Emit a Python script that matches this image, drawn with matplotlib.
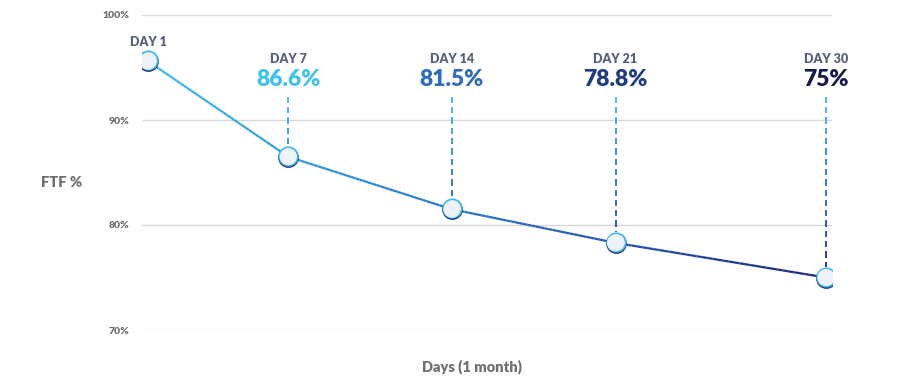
import numpy as np
import matplotlib.pyplot as plt
from matplotlib.collections import LineCollection
from matplotlib import transforms
from matplotlib.colors import LinearSegmentedColormap

days = [1, 7, 14, 21, 30]
ftf = [95.6, 86.5, 81.5, 78.3, 75.0]
day_labels = ['DAY 1', 'DAY 7', 'DAY 14', 'DAY 21', 'DAY 30']
value_labels = [None, '86.6%', '81.5%', '78.8%', '75%']
value_colors = [None, '#3fc2f2', '#2e6dbd', '#1f3b86', '#16194a']
yticks = [70, 80, 90, 100]

plt.rcParams['font.family'] = ['Lato', 'DejaVu Sans']

light = '#3cbcf0'
navy = '#1b2378'
grad = LinearSegmentedColormap.from_list('g', [light, '#2a86d4', '#2357ad', navy])

fig = plt.figure(figsize=(9.06, 3.91), dpi=100)
ax = fig.add_axes([142 / 906, 61 / 391, 690 / 906, 315 / 391])
ax.set_xlim(0.744, 30.26)
ax.set_ylim(70, 100)

for s in ax.spines.values():
    s.set_visible(False)
ax.set_xticks([])
ax.set_yticks(yticks)
ax.set_yticklabels([f'{t}%' for t in yticks], fontsize=7.5, fontweight='heavy', color='#6e6e6e')
ax.tick_params(axis='y', length=0, pad=9)
ax.grid(axis='y', color='#d9d9d9', lw=1)
ax.set_axisbelow(True)

# main line with gradient along x
xs, ys = [], []
for i in range(len(days) - 1):
    t = np.linspace(0, 1, 40)
    xs.extend(days[i] + (days[i + 1] - days[i]) * t)
    ys.extend(ftf[i] + (ftf[i + 1] - ftf[i]) * t)
xs, ys = np.array(xs), np.array(ys)
pts = np.column_stack([xs, ys]).reshape(-1, 1, 2)
segs = np.concatenate([pts[:-1], pts[1:]], axis=1)
cols = grad((xs[:-1] - days[0]) / (days[-1] - days[0]))
ax.add_collection(LineCollection(segs, colors=cols, lw=1.6, zorder=3))

# dashed drop lines, light on top, dark at bottom
top = 92.2
dash, gap = 0.6, 0.38
for d, v in zip(days[1:], ftf[1:]):
    bottom = v + 1.0
    y = top
    dsegs, dcols = [], []
    while y > bottom:
        y2 = max(y - dash, bottom)
        dsegs.append([(d, y), (d, y2)])
        dcols.append(grad((top - (y + y2) / 2) / (top - 75.5)))
        y = y2 - gap
    ax.add_collection(LineCollection(dsegs, colors=dcols, lw=1.3, zorder=2))

# markers: navy edge underneath, light edge shifted up
ax.scatter(days, ftf, s=185, facecolor='#eef3f9', edgecolor=navy, lw=1.3, zorder=4)
up = transforms.offset_copy(ax.transData, fig=fig, x=0, y=0.9, units='dots')
ax.scatter(days, ftf, s=175, facecolor='#eef3f9', edgecolor=light, lw=1.3, zorder=5,
           transform=up)
ax.scatter(days, ftf, s=150, facecolor='#eef3f9', edgecolor='none', zorder=6)

ax.text(days[0], 97.4, day_labels[0], ha='center', va='center', fontsize=9,
        fontweight='heavy', color='#59617a')
for d, dl, vl, c in zip(days[1:], day_labels[1:], value_labels[1:], value_colors[1:]):
    ax.text(d, 95.8, dl, ha='center', va='center', fontsize=9, fontweight='heavy', color='#59617a')
    ax.text(d, 93.9, vl, ha='center', va='center', fontsize=16.5, fontweight='heavy', color=c)

fig.text(62 / 906, 1 - 183 / 391, 'FTF %', ha='center', va='center', fontsize=10.5,
         fontweight='heavy', color='#707070')
fig.text(472 / 906, 1 - 367 / 391, 'Days (1 month)', ha='center', va='center', fontsize=10.5,
         fontweight='heavy', color='#707070')

fig.savefig('out.png', dpi=100)
